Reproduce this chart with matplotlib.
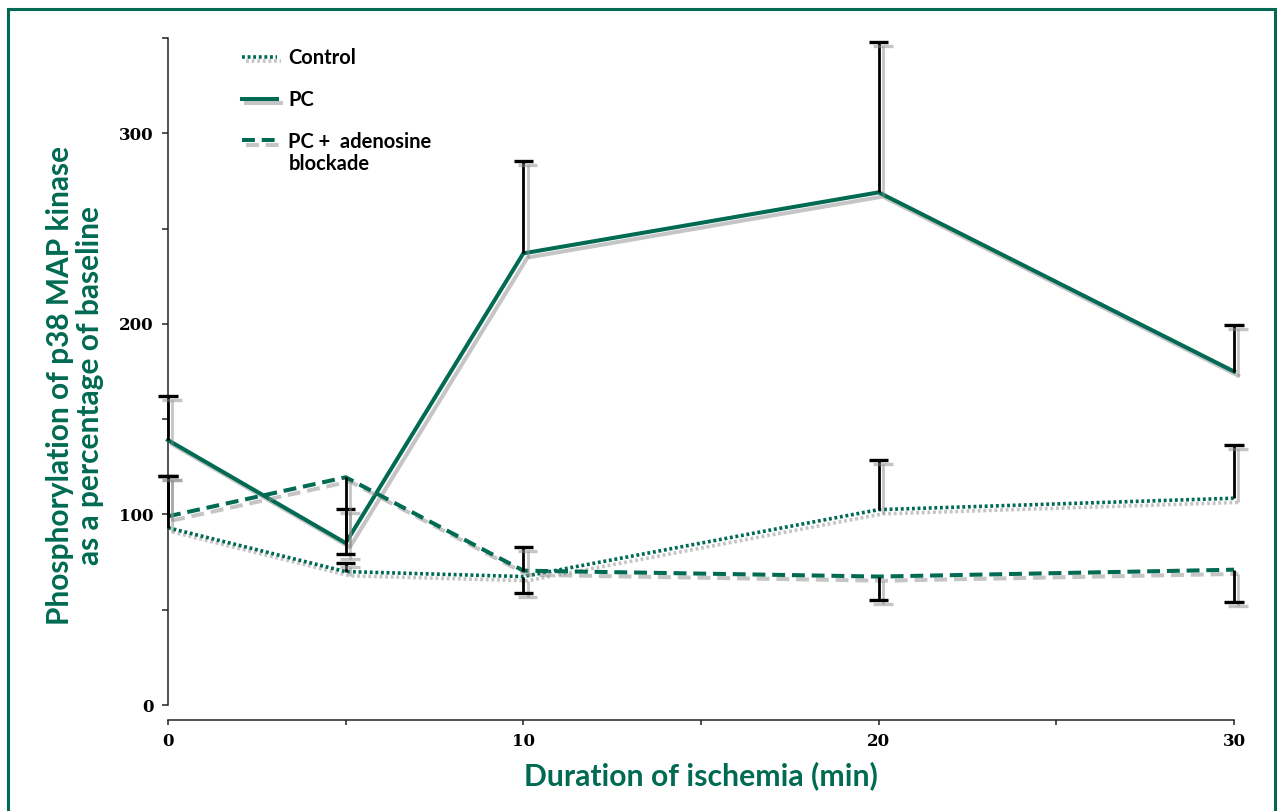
import matplotlib
matplotlib.use('Agg')
import matplotlib.pyplot as plt
import matplotlib.patheffects as pe
from matplotlib.patches import Rectangle
from matplotlib.ticker import MultipleLocator, FuncFormatter

GREEN = '#006A52'

# ---- data ----
time = [0, 5, 10, 20, 30]
control = [93, 70, 67.4, 102.5, 108.5]
control_err_lo = [0, 0, 8.8, 0, 0]
control_err_hi = [27, 4.7, 0, 26, 28]
pc = [139, 85, 237, 269, 175]
pc_err_lo = [0, 0, 0, 0, 0]
pc_err_hi = [23, 18, 48.5, 79, 24.5]
aden = [99, 119.5, 70.5, 67.4, 71]
aden_err_lo = [0, 40.5, 0, 12.3, 17]
aden_err_hi = [21, 0, 12.5, 0, 0]
labels = ['Control', 'PC', 'PC +  adenosine']
label_extra = 'blockade'
xticks = [0, 5, 10, 15, 20, 25, 30]
xlabels = ['0', '', '10', '', '20', '', '30']

plt.rcParams['font.family'] = ['DejaVu Serif']
plt.rcParams['font.weight'] = 'bold'

fig = plt.figure(figsize=(12.77, 8.11), dpi=100)
ax = fig.add_axes([168/1277, (811-705)/811, (1234-168)/1277, (705-38)/811])
ax.set_xlim(0, 30)
ax.set_ylim(0, 350)

shadow = [pe.SimpleLineShadow(offset=(3, -3), shadow_color='0.55', alpha=0.5), pe.Normal()]

l1, = ax.plot(time, control, color=GREEN, lw=2.6, ls=(0, (0.8, 0.75)),
              dash_capstyle='butt', path_effects=shadow, clip_on=False, zorder=3)
l2, = ax.plot(time, pc, color=GREEN, lw=2.9, ls='-',
              path_effects=shadow, clip_on=False, zorder=3)
l3, = ax.plot(time, aden, color=GREEN, lw=2.9, ls=(0, (3.2, 1.7)),
              path_effects=shadow, clip_on=False, zorder=3)

def draw_err(x, y, lo, hi):
    for xi, yi, e_lo, e_hi in zip(x, y, lo, hi):
        for e in (e_hi, -e_lo):
            if e != 0:
                ax.vlines(xi, yi, yi + e, colors='black', lw=2.0,
                          path_effects=shadow, zorder=4, clip_on=False)
                ax.plot([xi], [yi + e], marker='_', ms=14, mew=2.4, color='black',
                        ls='none', path_effects=shadow, zorder=4, clip_on=False)

draw_err(time, control, control_err_lo, control_err_hi)
draw_err(time, pc, pc_err_lo, pc_err_hi)
draw_err(time, aden, aden_err_lo, aden_err_hi)

# axes styling
for s in ('top', 'right'):
    ax.spines[s].set_visible(False)
ax.spines['bottom'].set_position(('outward', 10.8))
for s in ('left', 'bottom'):
    ax.spines[s].set_linewidth(1.1)
    ax.spines[s].set_color('#222222')

ax.yaxis.set_major_locator(MultipleLocator(50))
ax.yaxis.set_major_formatter(FuncFormatter(lambda v, p: f'{int(v)}' if int(v) % 100 == 0 else ''))
ax.set_xticks(xticks)
ax.set_xticklabels(xlabels)
ax.tick_params(axis='y', direction='out', length=4.3, width=1.1, pad=5.8,
               labelsize=12, colors='#222222', labelcolor='black')
ax.tick_params(axis='x', direction='out', length=3.6, width=1.1, pad=6,
               labelsize=12, colors='#222222', labelcolor='black')

lab_font = dict(family='Lato', weight='bold')
ax.set_xlabel('Duration of ischemia (min)', color=GREEN, fontsize=21.7, **lab_font)
ax.xaxis.set_label_coords(0.5, -0.0845)
ax.set_ylabel('Phosphorylation of p38 MAP kinase\nas a percentage of baseline',
              color=GREEN, fontsize=21.5, linespacing=1.05, **lab_font)
ax.yaxis.set_label_coords(-0.0605, 0.479)

leg = ax.legend([l1, l2, l3], labels, loc='upper left',
                bbox_to_anchor=((242-168)/1066, 0.985), frameon=False,
                borderaxespad=0, borderpad=0, handlelength=1.75, handletextpad=0.55,
                labelspacing=1.08, prop=dict(family='Lato', weight='bold', size=14.5))
ax.annotate(label_extra, xy=(0, 0), xycoords=leg.get_texts()[2], xytext=(0, -2),
            textcoords='offset points', va='top', ha='left', zorder=10,
            fontfamily='Lato', fontweight='bold', fontsize=14.5)

fig.patches.append(Rectangle((8/1277, -0.02), (1275-8)/1277, (811-9)/811 + 0.02,
                             transform=fig.transFigure, fill=False, ec=GREEN, lw=2.2))

fig.savefig('out.png', dpi=100)
